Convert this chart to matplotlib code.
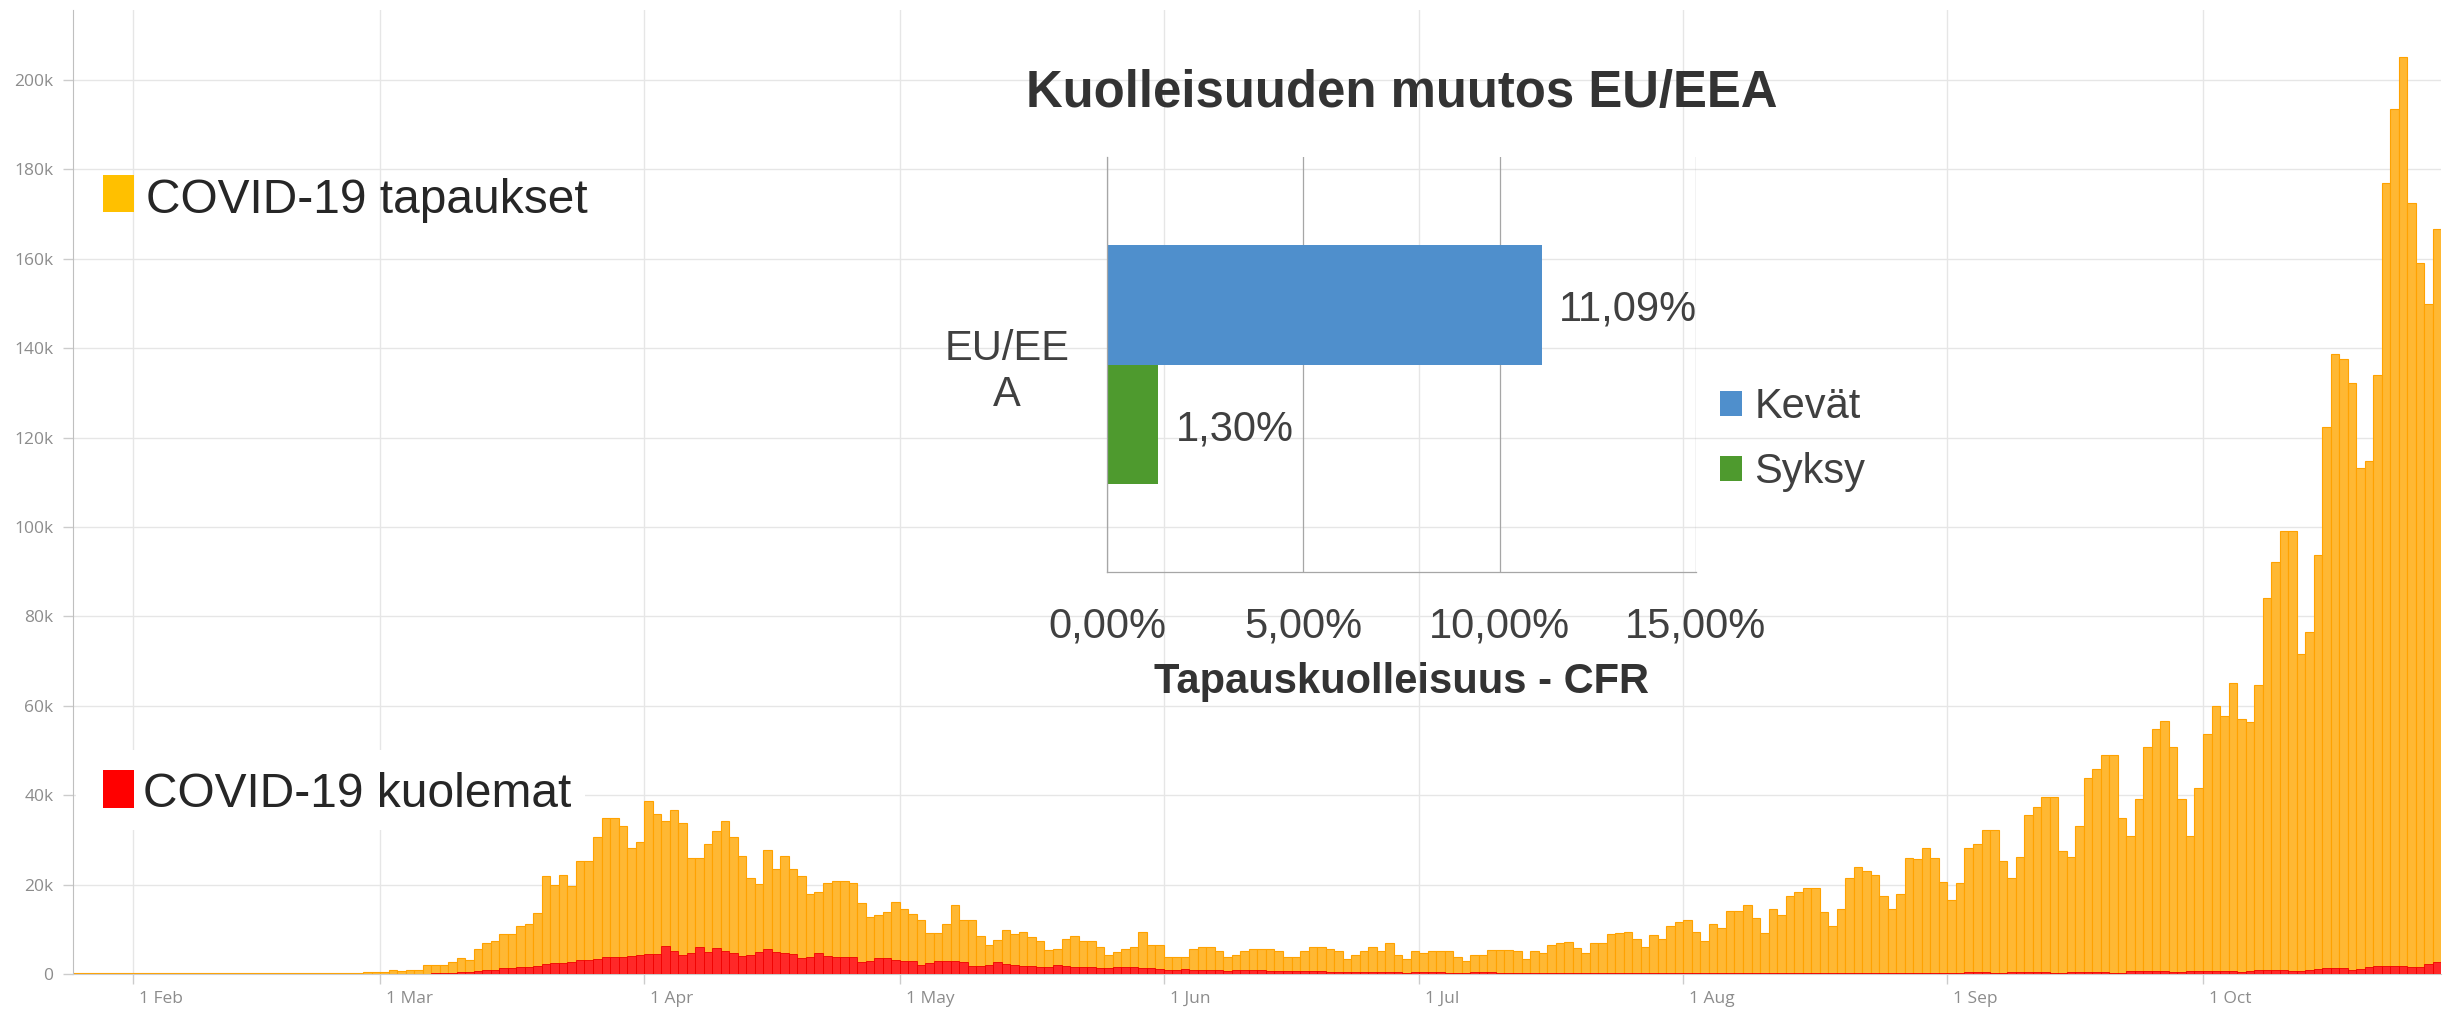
import datetime as dt

import matplotlib
matplotlib.use("Agg")
import matplotlib.pyplot as plt
import matplotlib.dates as mdates
from matplotlib.patches import Rectangle
from matplotlib.transforms import ScaledTranslation

plt.rcParams['font.family'] = ['Open Sans', 'DejaVu Sans']

W, H = 2455, 1014

#Päivittäiset tapaukset EU/EEA (tuhansina), alkaen 25.1.2020
start = dt.date(2020, 1, 25)
cases_jan = [0.15, 0.15, 0.15, 0.15, 0.15, 0.15, 0.15]
cases_feb = [0.15, 0.15, 0.15, 0.15, 0.15, 0.15, 0.15, 0.15, 0.15, 0.15,
             0.15, 0.15, 0.15, 0.15, 0.15, 0.15, 0.15, 0.15, 0.15, 0.15,
             0.15, 0.15, 0.15, 0.15, 0.15, 0.2, 0.25, 0.35, 0.5]
cases_mar = [0.5, 1.0, 0.6, 1.0, 1.0, 2.0, 2.0, 2.0, 2.6, 3.6, 3.2, 5.6, 7.0, 7.3, 9.0, 9.0,
             10.7, 11.1, 13.7, 21.9, 20.0, 22.2, 19.6, 25.3, 25.3, 30.6, 34.9, 34.9, 33.2, 28.1, 29.5]
cases_apr = [38.8, 35.9, 34.2, 36.6, 33.7, 26.0, 26.0, 29.1, 32.1, 34.2, 30.7, 26.3, 21.4, 20.1, 27.8,
             23.6, 26.3, 23.6, 21.9, 17.8, 18.4, 20.4, 20.8, 20.8, 20.4, 15.8, 12.8, 13.2, 13.8, 16.2]
cases_may = [14.5, 13.4, 12.0, 9.1, 9.1, 11.2, 15.5, 12.0, 12.0, 8.6, 6.4, 7.7, 9.9, 9.0, 9.4, 8.3,
             7.4, 5.4, 5.7, 7.8, 8.6, 7.4, 7.4, 6.0, 4.3, 4.9, 5.7, 6.0, 9.5, 6.5, 6.5]
cases_jun = [3.9, 3.9, 3.9, 5.7, 6.0, 6.0, 5.1, 3.7, 4.3, 5.1, 5.6, 5.6, 5.6, 5.1, 3.7,
             3.7, 5.1, 6.0, 6.0, 5.6, 5.1, 3.4, 4.3, 5.1, 6.0, 5.1, 6.9, 4.3, 3.4, 5.1]
cases_jul = [4.6, 5.1, 5.1, 5.1, 3.8, 2.8, 4.3, 4.3, 5.4, 5.4, 5.4, 5.1, 3.4, 5.1, 4.6, 6.4,
             6.9, 7.2, 5.9, 4.6, 6.9, 6.9, 9.0, 9.1, 9.5, 7.8, 6.1, 8.7, 7.8, 10.7, 11.6]
cases_aug = [12.1, 9.5, 7.4, 11.1, 10.4, 14.2, 14.2, 15.4, 12.5, 9.1, 14.6, 13.3, 17.5, 18.4, 19.2, 19.2,
             13.8, 10.8, 14.6, 21.4, 24.0, 23.1, 22.2, 17.5, 14.6, 17.9, 26.0, 25.7, 28.1, 26.0, 20.6]
cases_sep = [16.5, 20.3, 28.2, 29.1, 32.2, 32.2, 25.3, 21.4, 26.1, 35.5, 37.3, 39.5, 39.5, 27.6, 26.1,
             33.1, 43.9, 45.8, 48.9, 48.9, 34.9, 30.9, 39.2, 50.8, 54.8, 56.6, 50.8, 39.2, 30.9, 41.7]
cases_oct = [53.7, 60.0, 57.8, 65.1, 57.1, 56.4, 64.7, 84.2, 92.2, 99.1, 99.1, 71.5, 76.5, 93.7,
             122.4, 138.7, 137.5, 132.2, 113.3, 114.7, 134.1, 176.9, 193.6, 205.1, 172.5, 159.0, 149.9, 166.6]

#Päivittäiset kuolemat (tuhansina)
deaths_jan = [0.0, 0.0, 0.0, 0.0, 0.0, 0.0, 0.0]
deaths_feb = [0.0, 0.0, 0.0, 0.0, 0.0, 0.0, 0.0, 0.0, 0.0, 0.0,
              0.0, 0.0, 0.0, 0.0, 0.0, 0.0, 0.0, 0.0, 0.0, 0.0,
              0.0, 0.0, 0.0, 0.0, 0.0, 0.01, 0.01, 0.01, 0.01]
deaths_mar = [0.01, 0.02, 0.03, 0.05, 0.08, 0.1, 0.15, 0.2, 0.25, 0.35, 0.45, 0.6, 0.9, 1.0, 1.3, 1.3,
              1.5, 1.6, 1.9, 2.2, 2.5, 2.5, 2.6, 3.1, 3.1, 3.3, 3.8, 3.7, 3.7, 4.1, 4.3]
deaths_apr = [4.5, 4.5, 6.2, 5.1, 4.2, 4.6, 6.1, 4.9, 5.9, 5.1, 4.6, 4.0, 4.3, 5.0, 5.6,
              5.0, 4.6, 4.5, 3.6, 3.9, 4.8, 4.1, 3.9, 3.9, 3.7, 2.6, 3.0, 3.6, 3.5, 3.1]
deaths_may = [3.0, 2.8, 2.1, 2.4, 3.0, 3.0, 2.8, 2.6, 1.9, 1.8, 2.1, 2.6, 2.2, 2.1, 1.9, 1.7,
              1.5, 1.6, 2.0, 1.8, 1.6, 1.6, 1.5, 1.3, 1.3, 1.6, 1.6, 1.5, 1.4, 1.3, 1.1]
deaths_jun = [1.0, 1.0, 1.1, 1.0, 0.9, 0.9, 0.8, 0.7, 0.8, 0.9, 0.8, 0.8, 0.7, 0.6, 0.6,
              0.7, 0.7, 0.6, 0.6, 0.5, 0.5, 0.4, 0.5, 0.5, 0.5, 0.4, 0.4, 0.4, 0.3, 0.4]
deaths_jul = [0.4, 0.4, 0.4, 0.3, 0.3, 0.3, 0.4, 0.4, 0.4, 0.3, 0.3, 0.2, 0.3, 0.3, 0.3, 0.3,
              0.3, 0.3, 0.2, 0.2, 0.3, 0.3, 0.3, 0.3, 0.2, 0.2, 0.2, 0.3, 0.3, 0.3, 0.3]
deaths_aug = [0.3, 0.2, 0.2, 0.3, 0.3, 0.3, 0.3, 0.3, 0.2, 0.2, 0.3, 0.3, 0.3, 0.3, 0.3, 0.2,
              0.2, 0.3, 0.3, 0.3, 0.3, 0.3, 0.2, 0.2, 0.3, 0.3, 0.3, 0.3, 0.3, 0.2, 0.2]
deaths_sep = [0.3, 0.3, 0.4, 0.4, 0.4, 0.3, 0.3, 0.4, 0.4, 0.4, 0.4, 0.4, 0.3, 0.3, 0.5,
              0.5, 0.5, 0.5, 0.5, 0.3, 0.3, 0.6, 0.6, 0.6, 0.6, 0.6, 0.4, 0.4, 0.6, 0.7]
deaths_oct = [0.7, 0.7, 0.7, 0.7, 0.5, 0.6, 0.9, 0.9, 0.9, 0.9, 0.7, 0.7, 1.0, 1.2,
              1.3, 1.3, 1.3, 1.0, 1.1, 1.6, 1.7, 1.8, 1.9, 1.9, 1.5, 1.6, 2.2, 2.6]

month_labels = ['1 Feb', '1 Mar', '1 Apr', '1 May', '1 Jun', '1 Jul', '1 Aug', '1 Sep', '1 Oct']
y_ticks = [0, 20, 40, 60, 80, 100, 120, 140, 160, 180, 200]

#Tapauskuolleisuus (CFR)
cfr_categories = ['EU/EE\nA']
cfr_kevat = [11.09]
cfr_syksy = [1.30]
cfr_ticks = [0, 5, 10, 15]

cases = cases_jan + cases_feb + cases_mar + cases_apr + cases_may + cases_jun + cases_jul + cases_aug + cases_sep + cases_oct
deaths = deaths_jan + deaths_feb + deaths_mar + deaths_apr + deaths_may + deaths_jun + deaths_jul + deaths_aug + deaths_sep + deaths_oct
dates = mdates.date2num([start + dt.timedelta(days=i) for i in range(len(cases))])
month_ticks = mdates.date2num([dt.date(2020, m, 1) for m in range(2, 11)])


def fx(px):
    return px / W


def fy(py):
    return 1 - py / H


fig = plt.figure(figsize=(W / 100, H / 100), dpi=100)

#Pääkuva: tapaukset ja kuolemat
ax = fig.add_axes([fx(73), fy(974), (2441 - 73) / W, (974 - 10) / H])
ax.bar(dates, cases, width=1, align='edge', color='#FFB833', edgecolor='#FFA200', linewidth=0.8, zorder=2)
ax.bar(dates, deaths, width=1, align='edge', color='#FF2828', edgecolor='#F00000', linewidth=0.6, zorder=3)

ppd = (2203 - 133) / 243
ax.set_xlim(month_ticks[0] - (133 - 73) / ppd, month_ticks[-1] + (2441 - 2203) / ppd)
ax.set_ylim(0, 200 * (974 - 10) / (974 - 80))
ax.set_xticks(month_ticks)
ax.set_xticklabels(month_labels, ha='left')
ax.set_yticks(y_ticks)
ax.set_yticklabels(['0'] + [f'{v}k' for v in y_ticks[1:]])
ax.grid(True, color='#e6e6e6', linewidth=1.0)
ax.set_axisbelow(True)
ax.tick_params(colors='#cccccc', labelcolor='#8c8c8c', labelsize=12.5, length=7, width=1)
ax.tick_params(axis='y', pad=7)
ax.tick_params(axis='x', pad=5)
for s in ['top', 'right']:
    ax.spines[s].set_visible(False)
ax.spines['left'].set_color('#bfbfbf')
ax.spines['bottom'].set_color('#cccccc')
for lbl in ax.get_xticklabels():
    lbl.set_transform(lbl.get_transform() + ScaledTranslation(0.06, 0, fig.dpi_scale_trans))

#Selitteet
fig.patches.append(Rectangle((fx(76), fy(830)), (585 - 76) / W, 80 / H, transform=fig.transFigure,
                             facecolor='white', edgecolor='none', zorder=1))
fig.patches.append(Rectangle((fx(103), fy(212)), 31 / W, 37 / H, transform=fig.transFigure,
                             facecolor='#FFC000', edgecolor='none', zorder=2))
fig.patches.append(Rectangle((fx(103), fy(808)), 31 / W, 38 / H, transform=fig.transFigure,
                             facecolor='#FF0000', edgecolor='none', zorder=2))
fig.text(fx(146), fy(213), 'COVID-19 tapaukset', fontsize=34.5, family='Liberation Sans',
         color='#262626', va='baseline')
fig.text(fx(143), fy(807), 'COVID-19 kuolemat', fontsize=34.5, family='Liberation Sans',
         color='#262626', va='baseline')

#Upotettu kuva: kuolleisuuden muutos
ax2 = fig.add_axes([fx(1107), fy(572), (1696 - 1107) / W, (572 - 157) / H])
ax2.set_facecolor('none')
bh = 0.2875
ax2.barh([i + bh / 2 for i in range(len(cfr_categories))], cfr_kevat, height=bh, color='#4F8FCC', label='Kevät')
ax2.barh([i - bh / 2 for i in range(len(cfr_categories))], cfr_syksy, height=bh, color='#4E9A2E', label='Syksy')
for i, v in enumerate(cfr_kevat):
    ax2.annotate(f'{v:.2f}%'.replace('.', ','), xy=(v, i + bh / 2), xytext=(11.5, -11),
                 textcoords='offset points', va='baseline', fontsize=30, family='Liberation Sans', color='#404040')
for i, v in enumerate(cfr_syksy):
    ax2.annotate(f'{v:.2f}%'.replace('.', ','), xy=(v, i - bh / 2), xytext=(13, -11.5),
                 textcoords='offset points', va='baseline', fontsize=30, family='Liberation Sans', color='#404040')

ax2.set_xlim(0, 15)
ax2.set_ylim(-0.5, 0.5)
ax2.set_xticks(cfr_ticks)
ax2.set_xticklabels([f'{t:.2f}%'.replace('.', ',') for t in cfr_ticks], family='Liberation Sans')
ax2.set_yticks(range(len(cfr_categories)))
ax2.set_yticklabels(cfr_categories, family='Liberation Sans')
ax2.tick_params(axis='x', length=0, pad=25, labelsize=30, labelcolor='#404040')
ax2.tick_params(axis='y', length=0, pad=27, labelsize=30, labelcolor='#404040')
for lbl in ax2.get_yticklabels():
    lbl.set_multialignment('center')
ax2.grid(axis='x', color='#a6a6a6', linewidth=0.9)
ax2.set_axisbelow(True)
for s in ['top', 'right']:
    ax2.spines[s].set_visible(False)
ax2.spines['left'].set_color('#a6a6a6')
ax2.spines['bottom'].set_color('#a6a6a6')
ax2.spines['left'].set_linewidth(0.9)
ax2.spines['bottom'].set_linewidth(0.9)

ax2.set_title('Kuolleisuuden muutos EU/EEA', fontsize=36.6, fontweight='bold', family='Liberation Sans',
              color='#333333', pad=36)
ax2.set_xlabel('Tapauskuolleisuus - CFR', fontsize=30, fontweight='bold', family='Liberation Sans',
               color='#333333')
ax2.xaxis.set_label_coords(0.5, (572 - 693) / (572 - 157))
ax2.xaxis.label.set_va('baseline')

ax2.legend(loc='upper left', bbox_to_anchor=(fx(1720), fy(387)), bbox_transform=fig.transFigure,
           frameon=False, prop={'family': 'Liberation Sans', 'size': 30}, labelcolor='#404040',
           handlelength=0.53, handleheight=0.53, handletextpad=0.29, labelspacing=0.6,
           borderpad=0, borderaxespad=0)

fig.savefig('out.png', dpi=100)
